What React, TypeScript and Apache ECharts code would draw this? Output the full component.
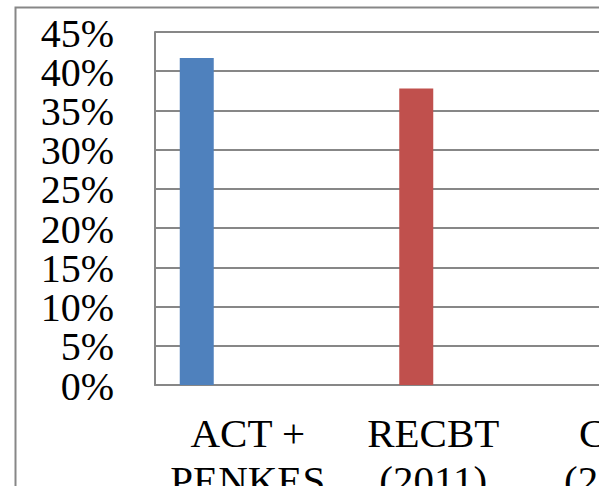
import React, { useEffect, useRef } from "react";
import * as echarts from "echarts";

// Categories (third label is cut off at the right edge of the picture)
const categories = ["ACT +\nPENKES", "RECBT\n(2011)", "CBT\n(2012)"];
// One series per study, clustered (Excel style), each only filled in its own category
const seriesNames = ["ACT + PENKES", "RECBT (2011)", "CBT (2012)", "Other"];
const actPenkesValues = [41.7, null, null];
const recbtValues = [null, 37.8, null];
const cbtValues = [null, null, null];
const otherValues = [null, null, null];
const seriesColors = ["#4F81BD", "#C0504D", "#9BBB59", "#8064A2"];
// Y tick labels (percent)
const yTickValues = [0, 5, 10, 15, 20, 25, 30, 35, 40, 45];
const yMax = 45;
const yStep = 5;

const FONT = "'Liberation Serif', 'Times New Roman', serif";
const GRID_GRAY = "#878787";
const GRID_LEFT = 155;
const Y_LABEL_MARGIN = 41;

export default function App() {
  const ref = useRef<HTMLDivElement>(null);

  useEffect(() => {
    if (!ref.current) return;
    const chart = echarts.init(ref.current, null, { renderer: "svg" });
    const allValues = [actPenkesValues, recbtValues, cbtValues, otherValues];
    const border = {
      id: "border",
      type: "rect",
      shape: { x: 15.5, y: 7.5, width: 1200, height: 1000 },
      style: { fill: "none", stroke: GRID_GRAY, lineWidth: 2 },
      silent: true,
    };
    chart.setOption({
      animation: false,
      backgroundColor: "#ffffff",
      graphic: [border],
      grid: {
        left: GRID_LEFT,
        top: 32,
        width: 556.5,
        height: 353,
        containLabel: false,
      },
      xAxis: {
        type: "category",
        data: categories,
        axisLine: { show: true, lineStyle: { color: GRID_GRAY, width: 2 } },
        axisTick: { show: false },
        axisLabel: {
          interval: 0,
          margin: 24,
          color: "#000",
          fontFamily: FONT,
          fontSize: 41,
          lineHeight: 47,
          hideOverlap: false,
        },
        splitLine: { show: false },
      },
      yAxis: {
        type: "value",
        min: 0,
        max: yMax,
        interval: yStep,
        axisLine: { show: true, lineStyle: { color: GRID_GRAY, width: 2 } },
        axisTick: { show: false },
        axisLabel: { show: false },
        splitLine: { show: true, lineStyle: { color: GRID_GRAY, width: 2 } },
      },
      series: allValues.map((vals, i) => ({
        name: seriesNames[i],
        type: "bar",
        data: vals,
        barWidth: 34,
        barGap: "0%",
        itemStyle: { color: seriesColors[i] },
      })),
    });

    // Y tick labels placed through the axis scale (ECharts would hide some of them as overlapping)
    const labels = yTickValues.map((v, i) => {
      const y = chart.convertToPixel({ yAxisIndex: 0 }, v) as number;
      return {
        id: "ylab" + i,
        type: "text",
        silent: true,
        style: {
          text: v + "%",
          x: GRID_LEFT - Y_LABEL_MARGIN,
          y: y + 1,
          align: "right",
          verticalAlign: "middle",
          fontFamily: FONT,
          fontSize: 40,
          fill: "#000",
        },
      };
    });
    chart.setOption({ graphic: [border, ...labels] });

    return () => chart.dispose();
  }, []);

  return (
    <div
      style={{
        position: "absolute",
        left: 0,
        top: 0,
        width: 599,
        height: 486,
        overflow: "hidden",
        background: "#fff",
      }}
    >
      <div ref={ref} style={{ width: 900, height: 600 }} />
    </div>
  );
}
